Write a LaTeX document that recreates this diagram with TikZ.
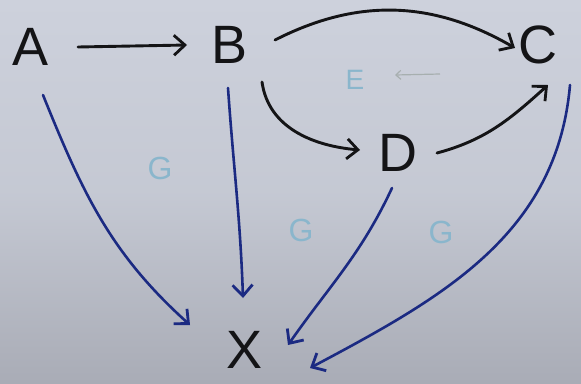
\documentclass[tikz,border=0pt]{standalone}
\usepackage{fontspec}
\setmainfont{Liberation Sans}
\usetikzlibrary{arrows.meta,calc}

\definecolor{paper}{HTML}{CDD1DC}
\definecolor{paperlow}{HTML}{A9ACB6}
\definecolor{inkblack}{HTML}{141416}
\definecolor{inkblue}{HTML}{1B2A82}
\definecolor{faintblue}{HTML}{8AB6CC}
\definecolor{faintgray}{HTML}{A7AFAF}

\tikzset{
  letter/.style={inner sep=2pt, text=inkblack, font=\fontsize{54}{54}\selectfont},
  ghost/.style={inner sep=0pt, text=faintblue, font=\fontsize{32}{32}\selectfont},
  barb/.style={-{Straight Barb[length=11pt,width=20pt,line width=2.8pt]}},
  blk/.style={barb, draw=inkblack, line width=2.9pt, line cap=round},
  blu/.style={barb, draw=inkblue, line width=2.6pt, line cap=round},
}

\begin{document}
\begin{tikzpicture}[x=1pt,y=1pt]
  % sheet of paper
  \shade[top color=paper, bottom color=paperlow, middle color=paper!96!black]
    (0,0) rectangle (581,-383);
  \useasboundingbox (0,0) rectangle (581,-383);

  % variables
  \node[letter] (A) at (31,-47)  {A};
  \node[letter] (B) at (230,-45) {B};
  \node[letter] (C) at (538,-45) {C};
  \node[letter] (D) at (398,-153){D};
  \node[letter] (X) at (245,-350){X};

  % faint pencil marks
  \node[ghost] (G1) at (160,-168) {G};
  \node[ghost] (G2) at (301,-230) {G};
  \node[ghost] (G3) at (441,-232) {G};
  \node[ghost, font=\fontsize{28}{28}\selectfont] (E) at (355,-80) {E};
  \draw[-{Straight Barb[length=5pt,width=9pt]}, draw=faintgray, line width=1.2pt]
    ($(E)+(85,6)$) -- ($(E)+(40,5)$);

  % black arrows
  \draw[blk] ($(A)+(47,0)$) -- ($(B)+(-43,0)$);
  \draw[blk] ($(B)+(45,5)$) to[out=27,in=150] ($(C)+(-23,-3)$);
  \draw[blk] ($(B)+(32,-37)$) to[out=-82,in=175] ($(D)+(-38,3)$);
  \draw[blk] ($(D)+(39,0)$) to[out=15,in=222] ($(C)+(10,-40)$);

  % blue arrows into X
  \draw[blu] ($(A)+(12,-48)$) to[out=-68,in=138] ($(X)+(-55,25)$);
  \draw[blu] ($(B)+(-2,-43)$) to[out=-86,in=92] ($(X)+(-2,52)$);
  \draw[blu] ($(D)+(-6,-35)$) to[out=-115,in=55] ($(X)+(43,5)$);
  \draw[blu] ($(C)+(32,-40)$) to[out=-95,in=28] ($(X)+(65,-18)$);
\end{tikzpicture}
\end{document}
